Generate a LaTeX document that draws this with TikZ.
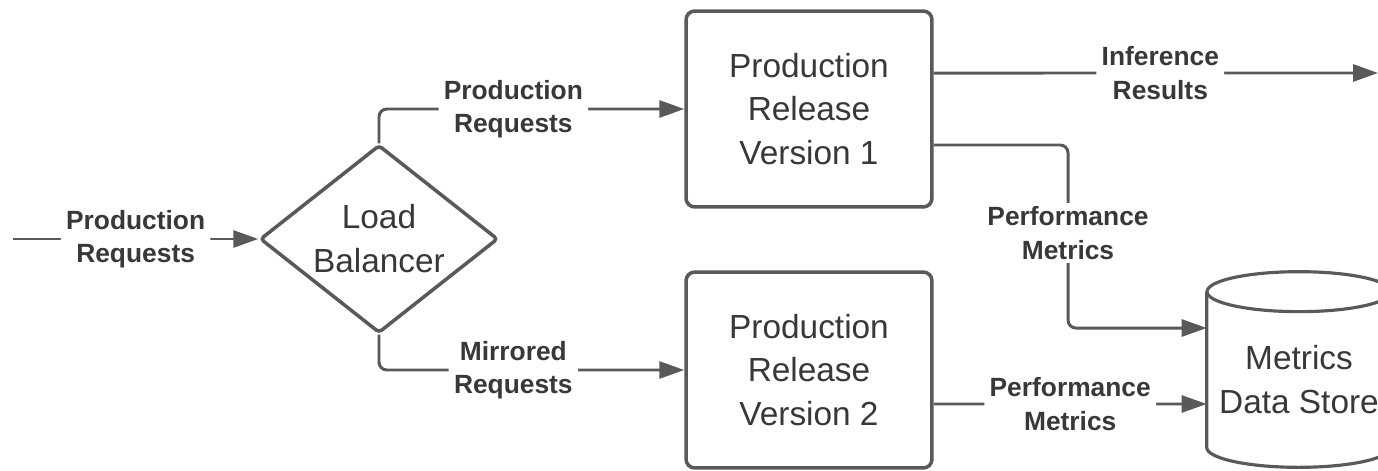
\documentclass[tikz,border=0pt]{standalone}
\usepackage{fontspec}
\setmainfont{Liberation Sans}
\usepackage{xcolor}
\definecolor{lcgray}{HTML}{595959}
\definecolor{lcdark}{HTML}{383838}
\usetikzlibrary{shapes.geometric,arrows.meta,positioning}

\begin{document}
\begin{tikzpicture}[x=0.02cm, y=-0.02cm,
  box/.style={draw=lcgray, fill=white, line width=2pt, rounded corners=5pt,
              minimum width=4.92cm, minimum height=3.92cm,
              align=center, font=\fontsize{19}{25}\selectfont\color{lcdark}},
  dec/.style={diamond, draw=lcgray, fill=white, line width=2pt, rounded corners=2pt,
              aspect=1.266, inner sep=0pt, minimum width=4.76cm, minimum height=3.76cm,
              align=center, font=\fontsize{19}{25}\selectfont\color{lcdark}},
  stor/.style={minimum width=3.68cm, minimum height=3.5cm, inner sep=0pt,
               align=center, font=\fontsize{19}{25}\selectfont\color{lcdark}},
  lbl/.style={fill=white, inner xsep=3pt, inner ysep=2pt,
              align=center, font=\fontsize{15}{19}\selectfont\bfseries\color{lcdark}},
  ln/.style={draw=lcgray, line width=1.8pt},
  arr/.style={draw=lcgray, line width=1.7pt, rounded corners=4.5pt,
              -{Triangle[length=0.5cm,width=0.34cm]}}
]
  \useasboundingbox (0,0) rectangle (1378,470);

  \node[dec] (lb)    at (379,239)   {Load\\Balancer};
  \node[box] (v1)    at (809,109)   {Production\\Release\\Version 1};
  \node[box] (v2)    at (809,370)   {Production\\Release\\Version 2};
  \node[stor] (store) at (1299,379.5) {Metrics\\Data Store};

  \draw[ln] (store.north west) -- ([yshift=0.4cm]store.south west)
    arc[start angle=180, end angle=360, x radius=1.84cm, y radius=0.4cm]
    -- (store.north east);
  \draw[ln] (store.north) ellipse[x radius=1.84cm, y radius=0.4cm];

  \coordinate (src) at (13,239);
  \coordinate (res) at (1378,73);
  \coordinate (pm1) at (1068,233);

  \draw[arr] (src) -- node[lbl] {Production\\Requests} (lb.west);
  \draw[arr] (lb.north) |- node[lbl, pos=0.72] {Production\\Requests} (v1.west);
  \draw[arr] (lb.south) |- node[lbl, pos=0.72] {Mirrored\\Requests} (v2.west);
  \draw[arr] ([yshift=0.72cm]v1.east) -- node[lbl, pos=0.51] {Inference\\Results} (res);
  \draw[arr] ([yshift=-0.72cm]v1.east) -| (pm1) node[lbl] {Performance\\Metrics}
    |- ([yshift=1.03cm]store.west);
  \draw[arr] ([yshift=-0.68cm]v2.east) -- node[lbl] {Performance\\Metrics}
    ([yshift=-0.49cm]store.west);

\end{tikzpicture}
\end{document}
